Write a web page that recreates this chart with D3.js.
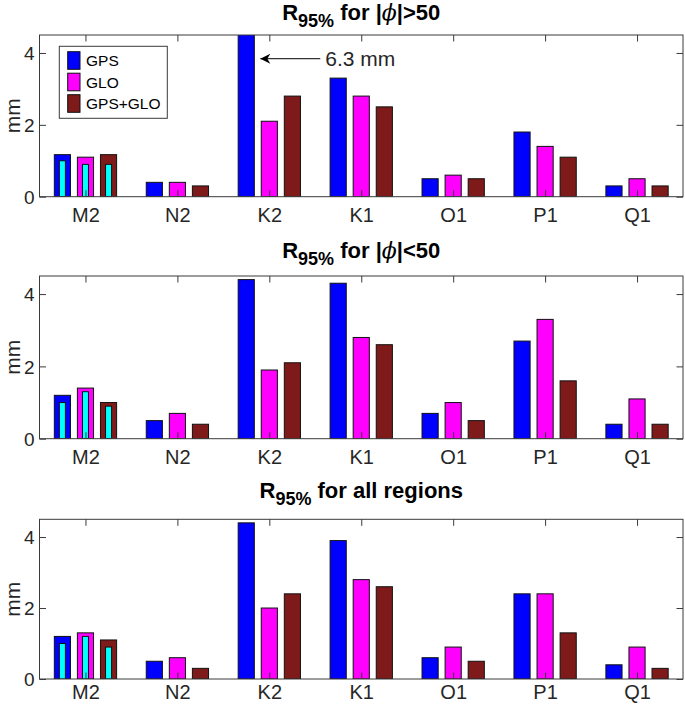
<!DOCTYPE html>
<html>
<head>
<meta charset="utf-8">
<script src="https://cdn.jsdelivr.net/npm/d3@7"></script>
<style>
  html, body { margin: 0; padding: 0; background: #fff; }
  svg { display: block; font-family: "Liberation Sans", Arial, Helvetica, sans-serif; }
</style>
</head>
<body>
<svg id="chart" width="685" height="706"></svg>
<script>
// ---------- data ----------
const categories = ["M2", "N2", "K2", "K1", "O1", "P1", "Q1"];
const seriesNames = ["GPS", "GLO", "GPS+GLO"];
const seriesColors = ["#0000ff", "#ff00ff", "#7f1a1a"];
const innerColor = "#00ffff";
const yTicks = [0, 2, 4];
const panelRegions = [">50", "<50", "all"];

// |phi| > 50
const gpsHigh  = [1.17, 0.4, 6.3, 3.3, 0.5, 1.8, 0.3];
const gloHigh  = [1.1, 0.4, 2.1, 2.8, 0.6, 1.4, 0.5];
const bothHigh = [1.17, 0.3, 2.8, 2.5, 0.5, 1.1, 0.3];
const m2InnerHigh = [1.0, 0.9, 0.9];

// |phi| < 50
const gpsLow  = [1.2, 0.5, 4.4, 4.3, 0.7, 2.7, 0.4];
const gloLow  = [1.4, 0.7, 1.9, 2.8, 1.0, 3.3, 1.1];
const bothLow = [1.0, 0.4, 2.1, 2.6, 0.5, 1.6, 0.4];
const m2InnerLow = [1.0, 1.3, 0.9];

// all regions
const gpsAll  = [1.2, 0.5, 4.4, 3.9, 0.6, 2.4, 0.4];
const gloAll  = [1.3, 0.6, 2.0, 2.8, 0.9, 2.4, 0.9];
const bothAll = [1.1, 0.3, 2.4, 2.6, 0.5, 1.3, 0.3];
const m2InnerAll = [1.0, 1.2, 0.9];

const annotationText = "6.3 mm";

const panels = [
  { series: [gpsHigh, gloHigh, bothHigh], inner: m2InnerHigh, top: 35, bottom: 196.7, titleY: 20, labelPad: 11, legend: true, note: true },
  { series: [gpsLow, gloLow, bothLow], inner: m2InnerLow, top: 276, bottom: 438.7, titleY: 258.3, labelPad: 11, legend: false, note: false },
  { series: [gpsAll, gloAll, bothAll], inner: m2InnerAll, top: 519.3, bottom: 679, titleY: 498.3, labelPad: 6, legend: false, note: false }
];

// ---------- drawing ----------
const svg = d3.select("#chart");
const left = 39.5, right = 683;
const axisColor = "#3a3a3a";
const textColor = "#262626";

const x = d3.scaleLinear().domain([0.5, categories.length + 0.5]).range([left, right]);
const unit = x(1) - x(0);
const offset = d3.scaleBand().domain(seriesNames).range([-unit / 3 - 0.5, unit / 3 + 0.5]).paddingInner(0.3);
const barW = offset.bandwidth();
const innerW = 6;

panels.forEach((p, pi) => {
  const y = d3.scaleLinear().domain([0, 4.5]).range([p.bottom, p.top]);
  const g = svg.append("g");
  const clipId = "clip" + pi;
  svg.append("clipPath").attr("id", clipId)
    .append("rect").attr("x", left).attr("y", p.top).attr("width", right - left).attr("height", p.bottom - p.top);

  // bars
  const bars = g.append("g").attr("clip-path", `url(#${clipId})`);
  seriesNames.forEach((s, si) => {
    bars.selectAll(null)
      .data(p.series[si].map((v, i) => ({ v, i })))
      .join("rect")
      .attr("x", d => x(d.i + 1) + offset(s))
      .attr("y", d => y(d.v))
      .attr("width", barW)
      .attr("height", d => y(0) - y(d.v))
      .attr("fill", seriesColors[si])
      .attr("stroke", "#111")
      .attr("stroke-width", 1);
  });
  // inner cyan bars for M2
  bars.selectAll(null)
    .data(p.inner.map((v, si) => ({ v, si })))
    .join("rect")
    .attr("x", d => x(1) + offset(seriesNames[d.si]) + barW / 2 - innerW / 2)
    .attr("y", d => y(d.v))
    .attr("width", innerW)
    .attr("height", d => y(0) - y(d.v))
    .attr("fill", innerColor)
    .attr("stroke", "#111")
    .attr("stroke-width", 1);

  // axes (inward ticks)
  const tickLen = 6.5;
  const xb = g.append("g").attr("transform", `translate(0,${p.bottom})`)
    .call(d3.axisBottom(x).tickValues(d3.range(1, categories.length + 1))
      .tickFormat(d => categories[d - 1]).tickSizeInner(-tickLen).tickSizeOuter(0).tickPadding(p.labelPad));
  const xt = g.append("g").attr("transform", `translate(0,${p.top})`)
    .call(d3.axisTop(x).tickValues(d3.range(1, categories.length + 1))
      .tickFormat("").tickSizeInner(-tickLen).tickSizeOuter(0));
  const yl = g.append("g").attr("transform", `translate(${left},0)`)
    .call(d3.axisLeft(y).tickValues(yTicks).tickFormat(d3.format("d")).tickSizeInner(-tickLen).tickSizeOuter(0).tickPadding(5));
  const yr = g.append("g").attr("transform", `translate(${right},0)`)
    .call(d3.axisRight(y).tickValues(yTicks).tickFormat("").tickSizeInner(-tickLen).tickSizeOuter(0));
  [xb, xt, yl, yr].forEach(a => {
    a.select(".domain").remove();
    a.selectAll(".tick line").attr("stroke", axisColor);
    a.selectAll("text").attr("fill", textColor).attr("font-family", "Liberation Sans, Arial, sans-serif");
  });
  xb.selectAll("text").attr("font-size", 20);
  yl.selectAll("text").attr("font-size", 19).attr("dy", "0.36em");

  g.append("rect").attr("x", left).attr("y", p.top).attr("width", right - left).attr("height", p.bottom - p.top)
    .attr("fill", "none").attr("stroke", axisColor).attr("stroke-width", 1);

  // y label
  g.append("text")
    .attr("transform", `translate(20,${(p.top + p.bottom) / 2}) rotate(-90)`)
    .attr("text-anchor", "middle")
    .attr("font-size", 21)
    .attr("fill", textColor)
    .text("mm");

  // title
  const t = g.append("text")
    .attr("x", (left + right) / 2)
    .attr("y", p.titleY)
    .attr("text-anchor", "middle")
    .attr("font-size", 22)
    .attr("font-weight", "bold")
    .attr("fill", "#000");
  t.append("tspan").text("R");
  t.append("tspan").attr("font-size", 18).attr("dy", 7).text("95%");
  if (panelRegions[pi] === "all") {
    t.append("tspan").attr("dy", -7).text(" for all regions");
  } else {
    t.append("tspan").attr("dy", -7).text(" for |");
    t.append("tspan").attr("font-weight", "normal").attr("font-style", "italic").attr("font-family", "DejaVu Serif, serif").text("\u03D5");
    t.append("tspan").text("|" + panelRegions[pi]);
  }

  // legend
  if (p.legend) {
    const lg = g.append("g");
    lg.append("rect").attr("x", 59.3).attr("y", 46.3).attr("width", 108).attr("height", 72)
      .attr("fill", "#fff").attr("stroke", axisColor).attr("stroke-width", 1);
    seriesNames.forEach((s, si) => {
      const cy = 60.5 + si * 21.5;
      lg.append("rect").attr("x", 67.7).attr("y", cy - 8.8).attr("width", 12.3).attr("height", 17.6)
        .attr("fill", seriesColors[si]).attr("stroke", "#111").attr("stroke-width", 1);
      lg.append("text").attr("x", 86).attr("y", cy).attr("dy", "0.36em")
        .attr("font-size", 15.5).attr("fill", "#000").text(s);
    });
  }

  // annotation arrow for the clipped bar
  if (p.note) {
    const k2 = categories.indexOf("K2") + 1;
    const tipX = x(k2) + offset("GPS") + barW + 6;
    const ay = y(3.84);
    const tailX = tipX + 60;
    svg.append("defs").append("marker").attr("id", "arrowhead")
      .attr("viewBox", "0 0 10 10").attr("refX", 10).attr("refY", 5)
      .attr("markerWidth", 17).attr("markerHeight", 10).attr("markerUnits", "userSpaceOnUse")
      .attr("orient", "auto")
      .append("path").attr("d", "M0,0 L10,5 L0,10 L3,5 Z").attr("fill", "#000");
    g.append("line").attr("x1", tailX).attr("y1", ay).attr("x2", tipX).attr("y2", ay)
      .attr("stroke", "#000").attr("stroke-width", 1).attr("marker-end", "url(#arrowhead)");
    g.append("text").attr("x", tailX + 5).attr("y", ay).attr("dy", "0.36em")
      .attr("font-size", 21).attr("fill", textColor).text(annotationText);
  }
});
</script>
</body>
</html>
